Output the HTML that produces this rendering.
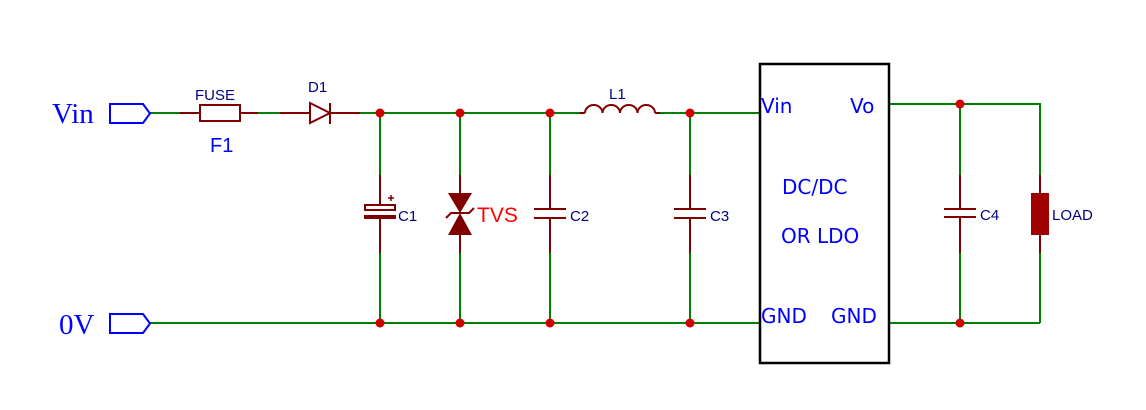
<!DOCTYPE html>
<html><head><meta charset="utf-8"><style>
html,body{margin:0;padding:0;background:#fff;}
svg{display:block;}
</style></head><body>
<svg width="1146" height="410" viewBox="0 0 1146 410" xmlns="http://www.w3.org/2000/svg">
<g stroke-width="2" fill="none">
<!-- top rail -->
<path d="M150 113 H180 M258 113 H280 M360 113 H580 M660 113 H760" stroke="#008000"/>
<path d="M180 113 H200 M240 113 H258 M280 113 H310 M330 113 H360 M580 113 H585 M655 113 H660" stroke="#800000"/>
<rect x="200" y="105" width="40" height="16" stroke="#800000"/>
<path d="M310 103 L330 113 L310 123 Z" stroke="#800000"/>
<path d="M330 103 V124" stroke="#800000"/>
<path d="M585 113 a8.75 8 0 0 1 17.5 0 a8.75 8 0 0 1 17.5 0 a8.75 8 0 0 1 17.5 0 a8.75 8 0 0 1 17.5 0" stroke="#800000"/>
<!-- bottom rail -->
<path d="M150 323 H760 M889 323 H1040 M889 104 H1040 V175 M1040 253 V323" stroke="#008000"/>
<!-- verticals green -->
<path d="M380 113 V175 M380 253 V323 M460 113 V175 M460 253 V323 M550 113 V175 M550 253 V323 M690 113 V175 M690 253 V323 M960 104 V175 M960 253 V323" stroke="#008000"/>
<!-- C1 -->
<path d="M380 175 V204 M380 219 V253" stroke="#800000"/>
<rect x="365" y="205" width="30" height="5" stroke="#800000"/>
<rect x="364" y="215" width="32" height="4" fill="#800000" stroke="none"/>
<path d="M388 198 h6 M391 195 v6" stroke="#800000" stroke-width="1.5"/>
<!-- TVS -->
<path d="M460 175 V193 M460 235 V253" stroke="#800000"/>
<path d="M448 193 H472 L460 213 Z M448 235 H472 L460 213 Z" fill="#800000" stroke="none"/>
<path d="M446 218 L451 213 H469 L474 208" stroke="#800000"/>
<!-- C2 C3 C4 -->
<path d="M550 175 V209 M550 218 V253 M534 209 H566 M534 218 H566" stroke="#800000"/>
<path d="M690 175 V209 M690 218 V253 M674 209 H706 M674 218 H706" stroke="#800000"/>
<path d="M960 175 V209 M960 217 V253 M944 209 H976 M944 217 H976" stroke="#800000"/>
<!-- LOAD -->
<path d="M1040 175 V193 M1040 235 V253" stroke="#800000"/>
<rect x="1031" y="193" width="18" height="42" fill="#a00000" stroke="none"/>
<!-- box -->
<rect x="760" y="64" width="129" height="299" stroke="#000" stroke-width="2.5"/>
<!-- ports -->
<path d="M110 104 H143 L150 113.5 L143 123 H110 Z" stroke="#0000ff"/>
<path d="M110 314 H143 L150 323.5 L143 333 H110 Z" stroke="#0000ff"/>
</g>
<g fill="#d00000">
<circle cx="380" cy="113" r="4.5"/><circle cx="460" cy="113" r="4.5"/><circle cx="550" cy="113" r="4.5"/><circle cx="690" cy="113" r="4.5"/>
<circle cx="380" cy="323" r="4.5"/><circle cx="460" cy="323" r="4.5"/><circle cx="550" cy="323" r="4.5"/><circle cx="690" cy="323" r="4.5"/>
<circle cx="960" cy="104" r="4.5"/><circle cx="960" cy="323" r="4.5"/>
</g>
<g font-family="Liberation Serif, serif" font-size="29" fill="#0000ff">
<text x="52" y="123">Vin</text>
<text x="59" y="334">0V</text>
</g>
<g font-family="Liberation Sans, sans-serif" fill="#000080" font-size="15">
<text x="195" y="100">FUSE</text>
<text x="308" y="92">D1</text>
<text x="609" y="99">L1</text>
<text x="398" y="221">C1</text>
<text x="570" y="221">C2</text>
<text x="710" y="221">C3</text>
<text x="980" y="220">C4</text>
<text x="1052" y="220">LOAD</text>
</g>
<text x="210" y="152" font-family="Liberation Sans, sans-serif" font-size="20" fill="#0000ff">F1</text>
<text x="477" y="222" font-family="Liberation Sans, sans-serif" font-size="21" fill="#ff0000">TVS</text>
<g font-family="DejaVu Sans, sans-serif" font-size="20" fill="#0000ff">
<text x="761" y="113">Vin</text>
<text x="850" y="113">Vo</text>
<text x="782" y="194">DC/DC</text>
<text x="781" y="243">OR LDO</text>
<text x="761" y="323">GND</text>
<text x="831" y="323">GND</text>
</g>
</svg>
</body></html>
